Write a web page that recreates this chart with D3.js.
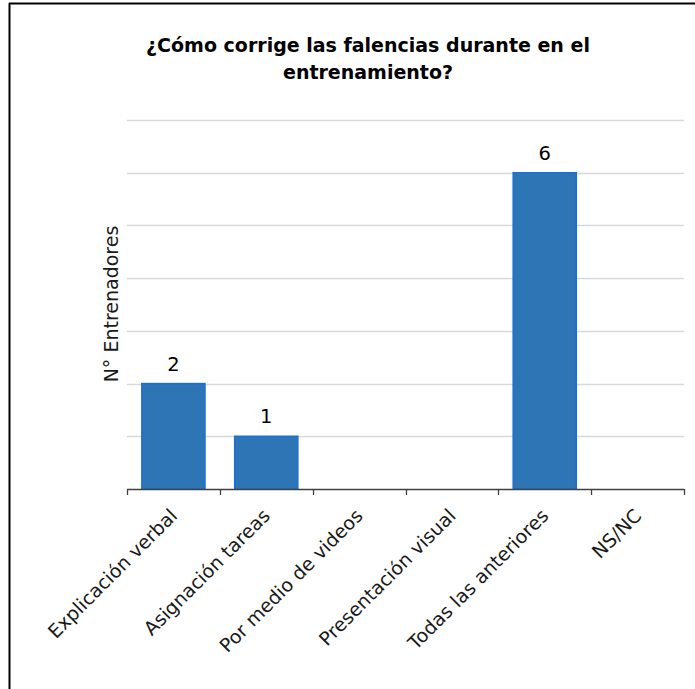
<!DOCTYPE html>
<html><head><meta charset="utf-8">
<script src="https://cdn.jsdelivr.net/npm/d3@7"></script>
<style>body{margin:0;background:#fff}svg{display:block}</style>
</head><body>
<script>
const categories = ["Explicación verbal","Asignación tareas","Por medio de videos","Presentación visual","Todas las anteriores","NS/NC"];
const values = [2,1,0,0,6,0];
const yTicks = [0,1,2,3,4,5,6,7];
const titleLines = ["¿Cómo corrige las falencias durante en el","entrenamiento?"];
const yTitle = "N° Entrenadores";

const W=695,H=689;
const m={left:127,right:11,top:120,bottom:200};
const svg=d3.select("body").append("svg").attr("width",W).attr("height",H);
const font="DejaVu Sans";

// border
svg.append("line").attr("x1",9).attr("x2",W).attr("y1",3.5).attr("y2",3.5).attr("stroke","#000").attr("stroke-width",2);
svg.append("line").attr("x1",9.5).attr("x2",9.5).attr("y1",3).attr("y2",H).attr("stroke","#000").attr("stroke-width",2);

const x=d3.scaleBand().domain(categories).range([m.left,W-m.right]).paddingInner(0.32).paddingOuter(0.16);
const y=d3.scaleLinear().domain([0,7]).range([489,120]);

// gridlines
svg.append("g").selectAll("line").data(yTicks.slice(1)).join("line")
  .attr("x1",m.left).attr("x2",W-m.right)
  .attr("y1",d=>Math.round(y(d))+0.5).attr("y2",d=>Math.round(y(d))+0.5)
  .attr("stroke","#d9d9d9").attr("stroke-width",1.3);

const data = values.map((v,i)=>({c:categories[i],v})).filter(d=>d.v>0);

// bars
svg.append("g").selectAll("rect").data(data).join("rect")
  .attr("x",d=>x(d.c)).attr("width",x.bandwidth())
  .attr("y",d=>y(d.v)).attr("height",d=>y(0)-y(d.v))
  .attr("fill","#2E75B6").attr("stroke","#1a6fd6").attr("stroke-width",1.5);

// value labels
svg.append("g").selectAll("text").data(data).join("text")
  .attr("x",d=>x(d.c)+x.bandwidth()/2).attr("y",d=>y(d.v)-13)
  .attr("text-anchor","middle").attr("font-family",font).attr("font-size",19.5).attr("fill","#000")
  .text(d=>d.v);

// x axis
const edges = d3.range(categories.length+1).map(i=>m.left+i*(W-m.right-m.left)/categories.length);
svg.append("line").attr("x1",m.left).attr("x2",W-m.right).attr("y1",489.5).attr("y2",489.5).attr("stroke","#404040").attr("stroke-width",1.3);
svg.append("g").selectAll("line").data(edges).join("line")
  .attr("x1",d=>Math.round(d)+0.5).attr("x2",d=>Math.round(d)+0.5).attr("y1",489).attr("y2",495)
  .attr("stroke","#404040").attr("stroke-width",1.3);

svg.append("g").selectAll("text").data(categories).join("text")
  .attr("transform",d=>`translate(${x(d)+x.bandwidth()/2+5},${517}) rotate(-45)`)
  .attr("text-anchor","end")
  .attr("font-family",font).attr("font-size",19).attr("fill","#1a1a1a")
  .text(d=>d);

// y title
svg.append("text").attr("transform","translate(118,304) rotate(-90)")
  .attr("text-anchor","middle").attr("font-family",font).attr("font-size",19).attr("fill","#1a1a1a")
  .text(yTitle);

// title
svg.append("g").selectAll("text").data(titleLines).join("text")
  .attr("x",368).attr("y",(d,i)=>52+i*27)
  .attr("text-anchor","middle").attr("font-family",font).attr("font-weight","bold").attr("font-size",19).attr("fill","#000")
  .text(d=>d);
</script>
</body></html>
